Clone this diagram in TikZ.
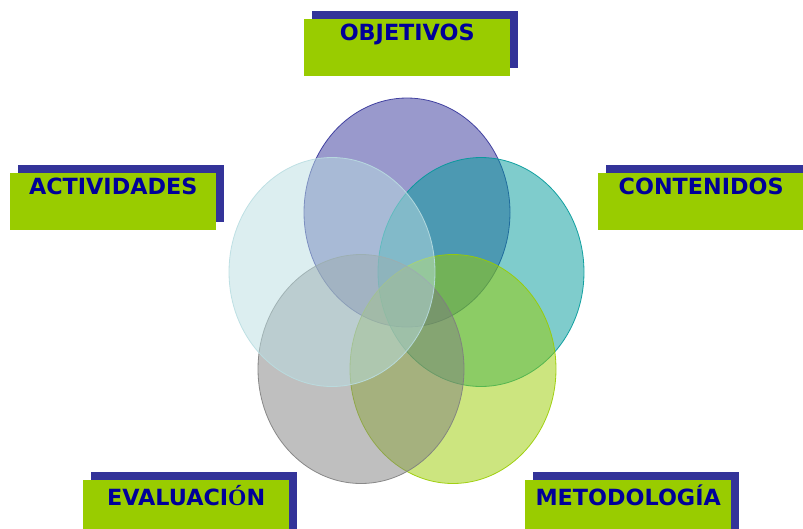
\documentclass[tikz,border=0pt]{standalone}
\usepackage{fontspec}
\setmainfont{DejaVu Sans}
\newfontfamily\serifacc{Liberation Serif}
\usetikzlibrary{shapes.geometric}
\definecolor{cpurple}{HTML}{333399}
\definecolor{cteal}{HTML}{009999}
\definecolor{clblue}{HTML}{B9DDE1}
\definecolor{cgray}{HTML}{7F7F7F}
\definecolor{cgreen}{HTML}{99CC00}
\definecolor{ctext}{HTML}{000099}
\definecolor{cshadow}{HTML}{333399}
\tikzset{
  venn/.style={ellipse, draw=#1, fill=#1, fill opacity=0.5, draw opacity=0.9, line width=0.8pt, minimum width=206pt, minimum height=229pt, inner sep=0pt},
  gbox/.style={rectangle, fill=cgreen, minimum width=206pt, minimum height=57pt, inner sep=0pt, anchor=north west},
  sbox/.style={rectangle, fill=cshadow, minimum width=206pt, minimum height=57pt, inner sep=0pt, anchor=north west},
  lab/.style={anchor=north, inner sep=0pt, text=ctext, font=\fontsize{22.3}{26}\selectfont\bfseries, yshift=-5pt}
}
\begin{document}
\begin{tikzpicture}[x=1pt,y=-1pt]
\useasboundingbox (0,0) rectangle (803,528);
% ellipses
\node[venn=cpurple] (c1) at (407,212.5) {};
\node[venn=cteal] (c2) at (481,272) {};
\node[venn=cgreen] (c3) at (453,369) {};
\node[venn=cgray] (c4) at (361,369) {};
\node[venn=clblue] (c5) at (332,272) {};
% boxes
\node[sbox] (s1) at (312,11) {};
\node[gbox] (b1) at (304,19) {};
\node[lab] (t1) at (b1.north) {OBJETIVOS};
\node[sbox] (s2) at (18,165) {};
\node[gbox] (b2) at (10,173) {};
\node[lab] (t2) at (b2.north) {ACTIVIDADES};
\node[sbox] (s3) at (606,165) {};
\node[gbox] (b3) at (598,173) {};
\node[lab] (t3) at (b3.north) {CONTENIDOS};
\node[sbox] (s4) at (91,472) {};
\node[gbox] (b4) at (83,480) {};
\node[lab] (t4) at (b4.north) {EVALUACI{\serifacc\fontsize{23.5}{26}\selectfont Ó}N};
\node[sbox] (s5) at (533,472) {};
\node[gbox] (b5) at (525,480) {};
\node[lab] (t5) at (b5.north) {METODOLOGÍA};
\end{tikzpicture}
\end{document}
